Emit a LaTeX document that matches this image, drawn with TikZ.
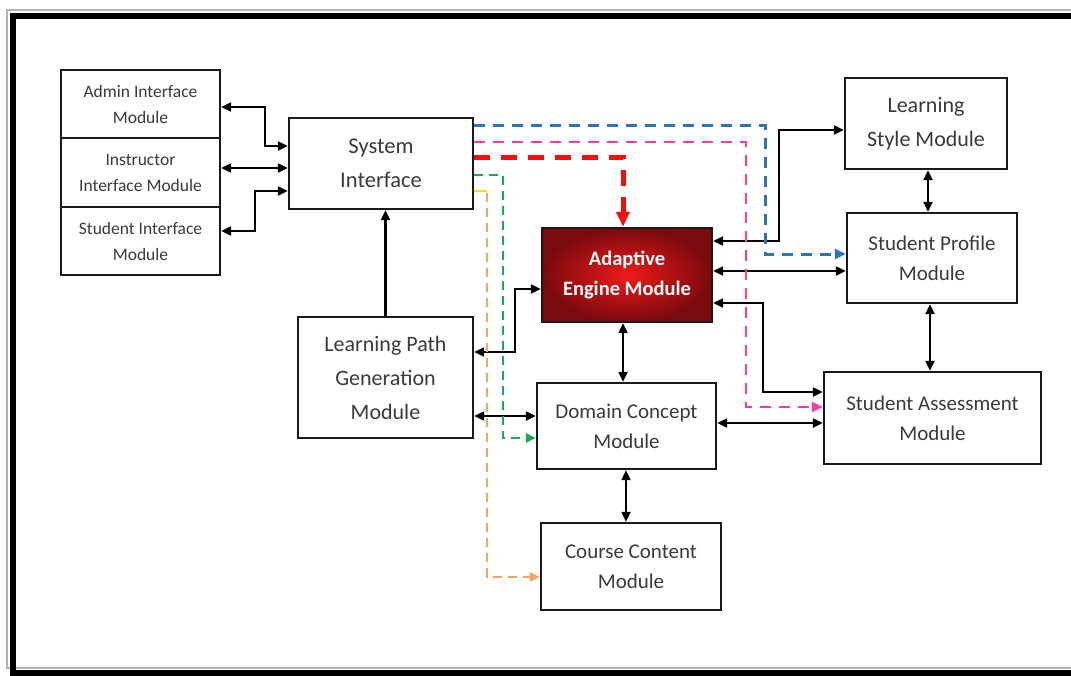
\documentclass[tikz,border=0pt]{standalone}
\usepackage{fontspec}
\setmainfont{Carlito}
\usepackage{tikz}
\usetikzlibrary{arrows.meta}
\definecolor{boxline}{HTML}{1A1A1A}
\definecolor{labelgrey}{HTML}{3A3A3A}
\definecolor{engdark}{HTML}{7A0A0E}
\definecolor{englight}{HTML}{EE1A1A}
\definecolor{blueflow}{HTML}{2E75B6}
\definecolor{pinkflow}{HTML}{FF3C9E}
\definecolor{redflow}{HTML}{F01010}
\definecolor{greenflow}{HTML}{1AAA55}
\definecolor{orangeflow}{HTML}{F4A460}
\definecolor{yellowflow}{HTML}{F2E600}
\tikzset{
  module/.style={draw=boxline, line width=2.4pt, fill=white, text=labelgrey, align=center, inner sep=0pt,
    font=\fontsize{21}{30}\selectfont},
  smallmod/.style={module, minimum width=159pt, minimum height=68.5pt, font=\fontsize{17.5}{26}\selectfont},
  engine/.style={module, inner color=englight, outer color=engdark, text=white,
    font=\bfseries\fontsize{20.5}{30}\selectfont},
  link/.style={draw=black, line width=2.2pt, {Triangle[length=10pt,width=9pt]}-{Triangle[length=10pt,width=9pt]}},
  uplink/.style={draw=black, line width=2.2pt, -{Triangle[length=10pt,width=9pt]}},
  flow/.style={line width=3pt, dash pattern=on 11pt off 8pt, -{Triangle[length=11pt,width=10pt]}},
  thinflow/.style={line width=2.6pt, dash pattern=on 9pt off 6pt, -{Triangle[length=10pt,width=9pt]}}
}

\begin{document}
\begin{tikzpicture}[x=1pt, y=-1pt]
  \clip (0,0) rectangle (1071,675);
  \fill[white] (0,0) rectangle (1071,675);
  \draw[gray!60, line width=1.2pt] (7,10) rectangle (1090,668);
  \draw[black, line width=6pt] (12.5,15.5) rectangle (1090,672.5);

  \node[smallmod] (admin) at (140.5,104) {Admin Interface\\Module};
  \node[smallmod] (instr) at (140.5,172.5) {Instructor\\Interface Module};
  \node[smallmod] (stud) at (140.5,241) {Student Interface\\Module};
  \node[module, minimum width=184pt, minimum height=91pt, font=\fontsize{22.5}{34}\selectfont] (sys) at (381,163.5) {System\\Interface};
  \node[module, minimum width=175pt, minimum height=121pt, font=\fontsize{22}{34}\selectfont] (lpath) at (385.5,377.5) {Learning Path\\Generation\\Module};
  \node[engine, minimum width=170pt, minimum height=94pt] (engine) at (627,275) {Adaptive\\Engine Module};
  \node[module, minimum width=179pt, minimum height=86pt] (domain) at (626.5,426) {Domain Concept\\Module};
  \node[module, minimum width=180pt, minimum height=87pt] (course) at (631,566.5) {Course Content\\Module};
  \node[module, minimum width=162pt, minimum height=91pt, font=\fontsize{22}{34}\selectfont] (lstyle) at (926,123.5) {Learning\\Style Module};
  \node[module, minimum width=170pt, minimum height=90pt] (profile) at (932,258) {Student Profile\\Module};
  \node[module, minimum width=217pt, minimum height=92pt] (assess) at (932.5,418) {Student Assessment\\Module};

  \draw[link] (admin.east |- 0,107) -| (265,146) -- (sys.west |- 0,146);
  \draw[link] (instr.east |- 0,168) -- (sys.west |- 0,168);
  \draw[link] (stud.east |- 0,231) -| (255,191) -- (sys.west |- 0,191);
  \draw[uplink] (lpath.north) -- (lpath.north |- sys.south);
  \draw[link] (lpath.east |- 0,352) -| (515,289) -- (engine.west |- 0,289);
  \draw[link] (lpath.east |- 0,416) -- (domain.west |- 0,416);
  \draw[link] (engine.south -| 623,0) -- (domain.north -| 623,0);
  \draw[link] (domain.south -| 626,0) -- (course.north -| 626,0);
  \draw[link] (engine.east |- 0,241) -| (779,130) -- (lstyle.west |- 0,130);
  \draw[link] (engine.east |- 0,271) -- (profile.west |- 0,271);
  \draw[link] (engine.east |- 0,303) -| (763,392) -- (assess.west |- 0,392);
  \draw[link] (domain.east |- 0,423) -- (assess.west |- 0,423);
  \draw[link] (lstyle.south -| 928,0) -- (profile.north -| 928,0);
  \draw[link] (profile.south -| 930,0) -- (assess.north -| 930,0);

  \draw[flow, blueflow] (sys.east |- 0,125) -| (765,254) -- (profile.west |- 0,254);
  \draw[flow, pinkflow, line width=2.8pt] (sys.east |- 0,142) -| (746,407) -- (assess.west |- 0,407);
  \draw[redflow, line width=5pt, dash pattern=on 16pt off 11pt, -{Triangle[length=15pt,width=13pt]}]
    (sys.east |- 0,157) -| (engine.north -| 623,0);
  \draw[thinflow, greenflow] (sys.east |- 0,175) -| (503,438) -- (domain.west |- 0,438);
  \draw[thinflow, orangeflow] (sys.east |- 0,191) -| (487,577) -- (course.west |- 0,577);
  \draw[yellowflow, line width=2.6pt] (sys.east |- 0,191) -- (487,191);
\end{tikzpicture}
\end{document}
